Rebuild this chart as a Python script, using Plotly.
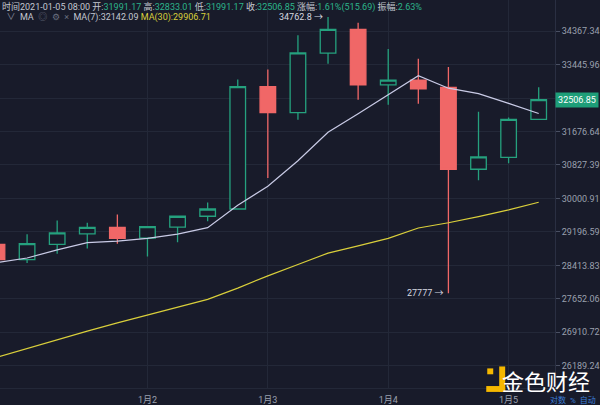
import math
import plotly.graph_objects as go

# ---- data (6h candles, BTC) ----
times = ["2020-12-31 18:00", "2021-01-01 00:00", "2021-01-01 06:00", "2021-01-01 12:00",
         "2021-01-01 18:00", "2021-01-02 00:00", "2021-01-02 06:00", "2021-01-02 12:00",
         "2021-01-02 18:00", "2021-01-03 00:00", "2021-01-03 06:00", "2021-01-03 12:00",
         "2021-01-03 18:00", "2021-01-04 00:00", "2021-01-04 06:00", "2021-01-04 12:00",
         "2021-01-04 18:00", "2021-01-05 00:00", "2021-01-05 06:00"]
opens  = [28904, 28545, 28904, 29149, 29305, 29049, 29311, 29569, 29744, 32854, 32163,
          33755, 34414, 32896, 33027, 32828, 30720, 31015, 31991.17]
highs  = [28957, 29142, 29468, 29414, 29609, 29321, 29569, 29900, 33045, 33310, 34250,
          34762.8, 34598, 33871, 33602, 33381, 32189, 32036, 32833.01]
lows   = [28500, 28470, 28681, 28803, 28918, 28620, 28950, 29452, 29744, 30501, 31977,
          33469, 32506, 32369, 32395, 27777, 30445, 30867, 31991.17]
closes = [28545, 28918, 29172, 29305, 29042, 29321, 29569, 29744, 32854, 32163, 33763,
          34414, 32896, 33027, 32792, 30720, 31032, 31991.17, 32506.85]
ma7    = [28477, 28584, 28773, 28941, 28980, 29042, 29142, 29297, 29834, 30300, 30934,
          31656, 32138, 32635, 33143, 32810, 32666, 32408, 32142.09]
ma30   = [26372, 26562, 26747, 26935, 27117, 27291, 27465, 27640, 27894, 28173, 28432,
          28698, 28865, 29042, 29288, 29414, 29562, 29722, 29906.71]

ytick_vals = [34367.34, 33445.96, 32549.30, 31676.64, 30827.39, 30000.91, 29196.59,
              28413.83, 27652.06, 26910.72, 26189.24]
ytick_text = ["34367.34", "33445.96", "", "31676.64", "30827.39", "30000.91", "29196.59",
              "28413.83", "27652.06", "26910.72", "26189.24"]
xtick_vals = ["2021-01-02", "2021-01-03", "2021-01-04", "2021-01-05"]
xtick_text = ["1月2", "1月3", "1月4", "1月5"]

last_price = 32506.85
max_label = "34762.8"
min_label = "27777"

# ---- style ----
BG = "#181b2a"
GRID = "#232838"
GREEN = "#25a17e"
RED = "#f06767"
MA7_C = "#c9cbe6"
MA30_C = "#d9cf3b"
TXT = "#9aa0ae"
FONT = "Roboto, Noto Sans CJK SC, sans-serif"

fig = go.Figure()
fig.add_trace(go.Candlestick(
    x=times, open=opens, high=highs, low=lows, close=closes,
    increasing=dict(line=dict(color=GREEN, width=1.3), fillcolor=BG),
    decreasing=dict(line=dict(color=RED, width=1.3), fillcolor=RED),
    whiskerwidth=0, showlegend=False, hoverinfo="skip"))
fig.add_trace(go.Scatter(x=times, y=ma7, mode="lines",
                         line=dict(color=MA7_C, width=1.2), showlegend=False, hoverinfo="skip"))
fig.add_trace(go.Scatter(x=times, y=ma30, mode="lines",
                         line=dict(color=MA30_C, width=1.2), showlegend=False, hoverinfo="skip"))

fig.update_layout(
    width=600, height=405,
    margin=dict(l=0, r=43, t=0, b=9),
    paper_bgcolor=BG, plot_bgcolor=BG,
    font=dict(family=FONT, size=9, color=TXT),
    boxgap=0.26,
    xaxis=dict(type="date", range=["2020-12-31 18:36", "2021-01-05 09:15"],
               rangeslider=dict(visible=False),
               tickvals=xtick_vals, ticktext=xtick_text,
               showgrid=True, gridcolor=GRID, gridwidth=1,
               zeroline=False, showline=True, linecolor=GRID,
               tickfont=dict(size=9, color=TXT), ticks="", ticklabelstandoff=3),
    yaxis=dict(type="log", side="right", range=[4.41028, 4.5471],
               tickvals=ytick_vals, ticktext=ytick_text,
               showgrid=True, gridcolor=GRID, gridwidth=1,
               zeroline=False, showline=True, linecolor="#2a2f42",
               ticks="outside", ticklen=4, tickcolor="#4a5063",
               tickfont=dict(size=9, color=TXT)),
)

ann = []
# header lines
g = "#2cb58a"
w = "#c3c7d0"
hdr1 = (f"<span style='color:{w}'>时间2021-01-05 08:00 开:</span><span style='color:{g}'>31991.17</span>"
        f"<span style='color:{w}'> 高:</span><span style='color:{g}'>32833.01</span>"
        f"<span style='color:{w}'> 低:</span><span style='color:{g}'>31991.17</span>"
        f"<span style='color:{w}'> 收:</span><span style='color:{g}'>32506.85</span>"
        f"<span style='color:{w}'> 涨幅:</span><span style='color:{g}'>1.61%(515.69)</span>"
        f"<span style='color:{w}'> 振幅:</span><span style='color:{g}'>2.63%</span>")
ann.append(dict(xref="paper", yref="paper", x=0, y=1, xanchor="left", yanchor="top",
                text=hdr1, showarrow=False, font=dict(size=9), yshift=1))
hdr2 = (f"<span style='color:#8a90a0'>  ∨  </span><span style='color:{w}'>MA</span>"
        f"<span style='color:#6a7080'>  ◎  ⚙  ×  </span>"
        f"<span style='color:{w}'>MA(7):{ma7[-1]:.2f} </span>"
        f"<span style='color:{MA30_C}'>MA(30):{ma30[-1]:.2f}</span>")
ann.append(dict(xref="paper", yref="paper", x=0, y=1, xanchor="left", yanchor="top",
                text=hdr2, showarrow=False, font=dict(size=9), yshift=-10))
# max / min labels
i_max = highs.index(max(highs))
i_min = lows.index(min(lows))
ann.append(dict(xref="x", yref="y", x=times[i_max], y=math.log10(highs[i_max]),
                text=f"{max_label} →", showarrow=False, xanchor="right", yanchor="middle",
                xshift=-3, font=dict(size=9, color="#d6d8e0")))
ann.append(dict(xref="x", yref="y", x=times[i_min], y=math.log10(lows[i_min]),
                text=f"{min_label} →", showarrow=False, xanchor="right", yanchor="middle",
                xshift=-2, font=dict(size=9, color="#d6d8e0")))
# current price tag
ann.append(dict(xref="paper", yref="y", x=1, y=math.log10(last_price), xanchor="left",
                yanchor="middle", text=f"{last_price:.2f}", showarrow=False,
                bgcolor="#1e9e78", width=40, height=12, borderpad=1,
                font=dict(size=9, color="#ffffff")))
# bottom right controls
ann.append(dict(xref="paper", yref="paper", x=600 / 557, y=-9 / 396, xanchor="right",
                yanchor="bottom", text="对数  %  自动", showarrow=False, yshift=-10,
                font=dict(size=8, color="#3b7dd8")))
# watermark
ann.append(dict(xref="paper", yref="paper", x=594 / 557, y=(396 - 388) / 396, xanchor="right",
                yanchor="middle", text="金色财经", showarrow=False,
                font=dict(size=22, color="#ffffff", family="Noto Sans CJK SC")))
fig.update_layout(annotations=ann)

# logo
def px(xp):
    return xp / 557
def py(yp):
    return (396 - yp) / 396
shapes = [
    dict(type="rect", xref="paper", yref="paper", x0=px(501), x1=px(507), y0=py(400), y1=py(374),
         fillcolor="#f5b800", line=dict(width=0)),
    dict(type="rect", xref="paper", yref="paper", x0=px(488), x1=px(507), y0=py(400), y1=py(394),
         fillcolor="#f5b800", line=dict(width=0)),
    dict(type="rect", xref="paper", yref="paper", x0=px(489), x1=px(495), y0=py(382), y1=py(376),
         fillcolor="#f5b800", line=dict(width=0)),
]
fig.update_layout(shapes=shapes)

fig.write_html("out.html")
